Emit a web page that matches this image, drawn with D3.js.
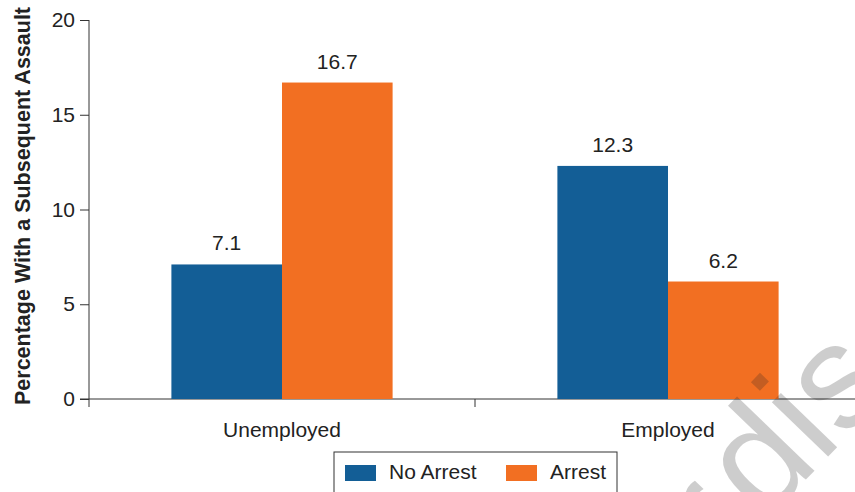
<!DOCTYPE html>
<html>
<head>
<meta charset="utf-8">
<script src="https://cdn.jsdelivr.net/npm/d3@7"></script>
<style>
  body { margin: 0; background: #fff; }
  text { font-family: "Liberation Sans", Arial, sans-serif; }
</style>
</head>
<body>
<div id="viz"></div>
<script>
// data
let categories = ["Unemployed", "Employed"];
let series = ["No Arrest", "Arrest"];
let noArrest = [7.1, 12.3];
let arrest = [16.7, 6.2];
let yTicks = [0, 5, 10, 15, 20];
let colors = ["#135e96", "#f26f22"];

let w = 855;
let h = 492;
let fontSize = "21px";

let viz = d3.select("#viz")
  .append("svg")
    .attr("width", w)
    .attr("height", h)
;

let rows = categories.map(function(c, i){
  return { cat: c, values: [noArrest[i], arrest[i]] };
});

// SCALES
let xScale = d3.scaleBand().domain(categories).range([89, 861]).padding(0);
let xInner = d3.scaleBand().domain(series).range([0, xScale.bandwidth()])
  .paddingInner(0).paddingOuter(0.745);
let yScale = d3.scaleLinear().domain([0, 20]).range([399, 20]);

// y axis
let yAxis = d3.axisLeft(yScale).tickValues(yTicks).tickSize(9).tickPadding(5);
let yG = viz.append("g").attr("transform", "translate(89,0)").call(yAxis);
yG.select(".domain").attr("d", "M0," + yScale(20) + "V407").attr("stroke", "#333");
yG.selectAll(".tick line").attr("stroke", "#333");
yG.selectAll(".tick text").style("font-size", fontSize).attr("fill", "#222");

// x axis
let xAxis = d3.axisBottom(xScale).tickSize(0).tickPadding(23);
let xG = viz.append("g").attr("transform", "translate(0,399)").call(xAxis);
xG.select(".domain").attr("d", "M80,0H855").attr("stroke", "#333");
xG.selectAll(".tick text").style("font-size", fontSize).attr("fill", "#222");
// tick mark between the two groups
xG.selectAll(".edge").data([xScale("Employed")]).enter()
  .append("line")
    .attr("x1", function(d){ return d; })
    .attr("x2", function(d){ return d; })
    .attr("y1", 0).attr("y2", 8)
    .attr("stroke", "#333")
;

// bars
let groups = viz.selectAll(".group").data(rows).enter()
  .append("g")
    .attr("class", "group")
    .attr("transform", function(d){ return "translate(" + xScale(d.cat) + ",0)"; })
;

groups.selectAll("rect").data(function(d){ return d.values; }).enter()
  .append("rect")
    .attr("x", function(d, i){ return xInner(series[i]); })
    .attr("y", function(d){ return yScale(d); })
    .attr("width", xInner.bandwidth())
    .attr("height", function(d){ return yScale(0) - yScale(d); })
    .attr("fill", function(d, i){ return colors[i]; })
;

groups.selectAll(".val").data(function(d){ return d.values; }).enter()
  .append("text")
    .attr("class", "val")
    .attr("x", function(d, i){ return xInner(series[i]) + xInner.bandwidth() / 2; })
    .attr("y", function(d){ return yScale(d) - 14; })
    .attr("text-anchor", "middle")
    .style("font-size", fontSize)
    .attr("fill", "#222")
    .text(function(d){ return d.toFixed(1); })
;

// y label
viz.append("text")
  .attr("transform", "translate(30,206) rotate(-90)")
  .attr("text-anchor", "middle")
  .style("font-size", "21.5px")
  .style("font-weight", "bold")
  .attr("fill", "#222")
  .text("Percentage With a Subsequent Assault");

// legend
let legend = viz.append("g");
legend.append("rect")
  .attr("x", 334).attr("y", 452)
  .attr("width", 283).attr("height", 50)
  .attr("fill", "none").attr("stroke", "#333").attr("stroke-width", 1);
let legendX = [345, 506];
series.forEach(function(s, i){
  legend.append("rect")
    .attr("x", legendX[i]).attr("y", 465)
    .attr("width", 31).attr("height", 16)
    .attr("fill", colors[i]);
  legend.append("text")
    .attr("x", legendX[i] + 44).attr("y", 479)
    .style("font-size", fontSize)
    .attr("fill", "#222")
    .text(s);
});

// faint watermark
let wm = viz.append("g")
  .attr("transform", "translate(764,523) rotate(-46)")
  .attr("opacity", 0.22);
wm.append("text")
  .attr("x", 0).attr("y", 0)
  .style("font-size", "148px")
  .attr("fill", "#222")
  .text("dis");
wm.append("text")
  .attr("x", -15).attr("y", 0)
  .attr("text-anchor", "end")
  .style("font-size", "148px")
  .attr("fill", "#222")
  .text("or");
</script>
</body>
</html>
